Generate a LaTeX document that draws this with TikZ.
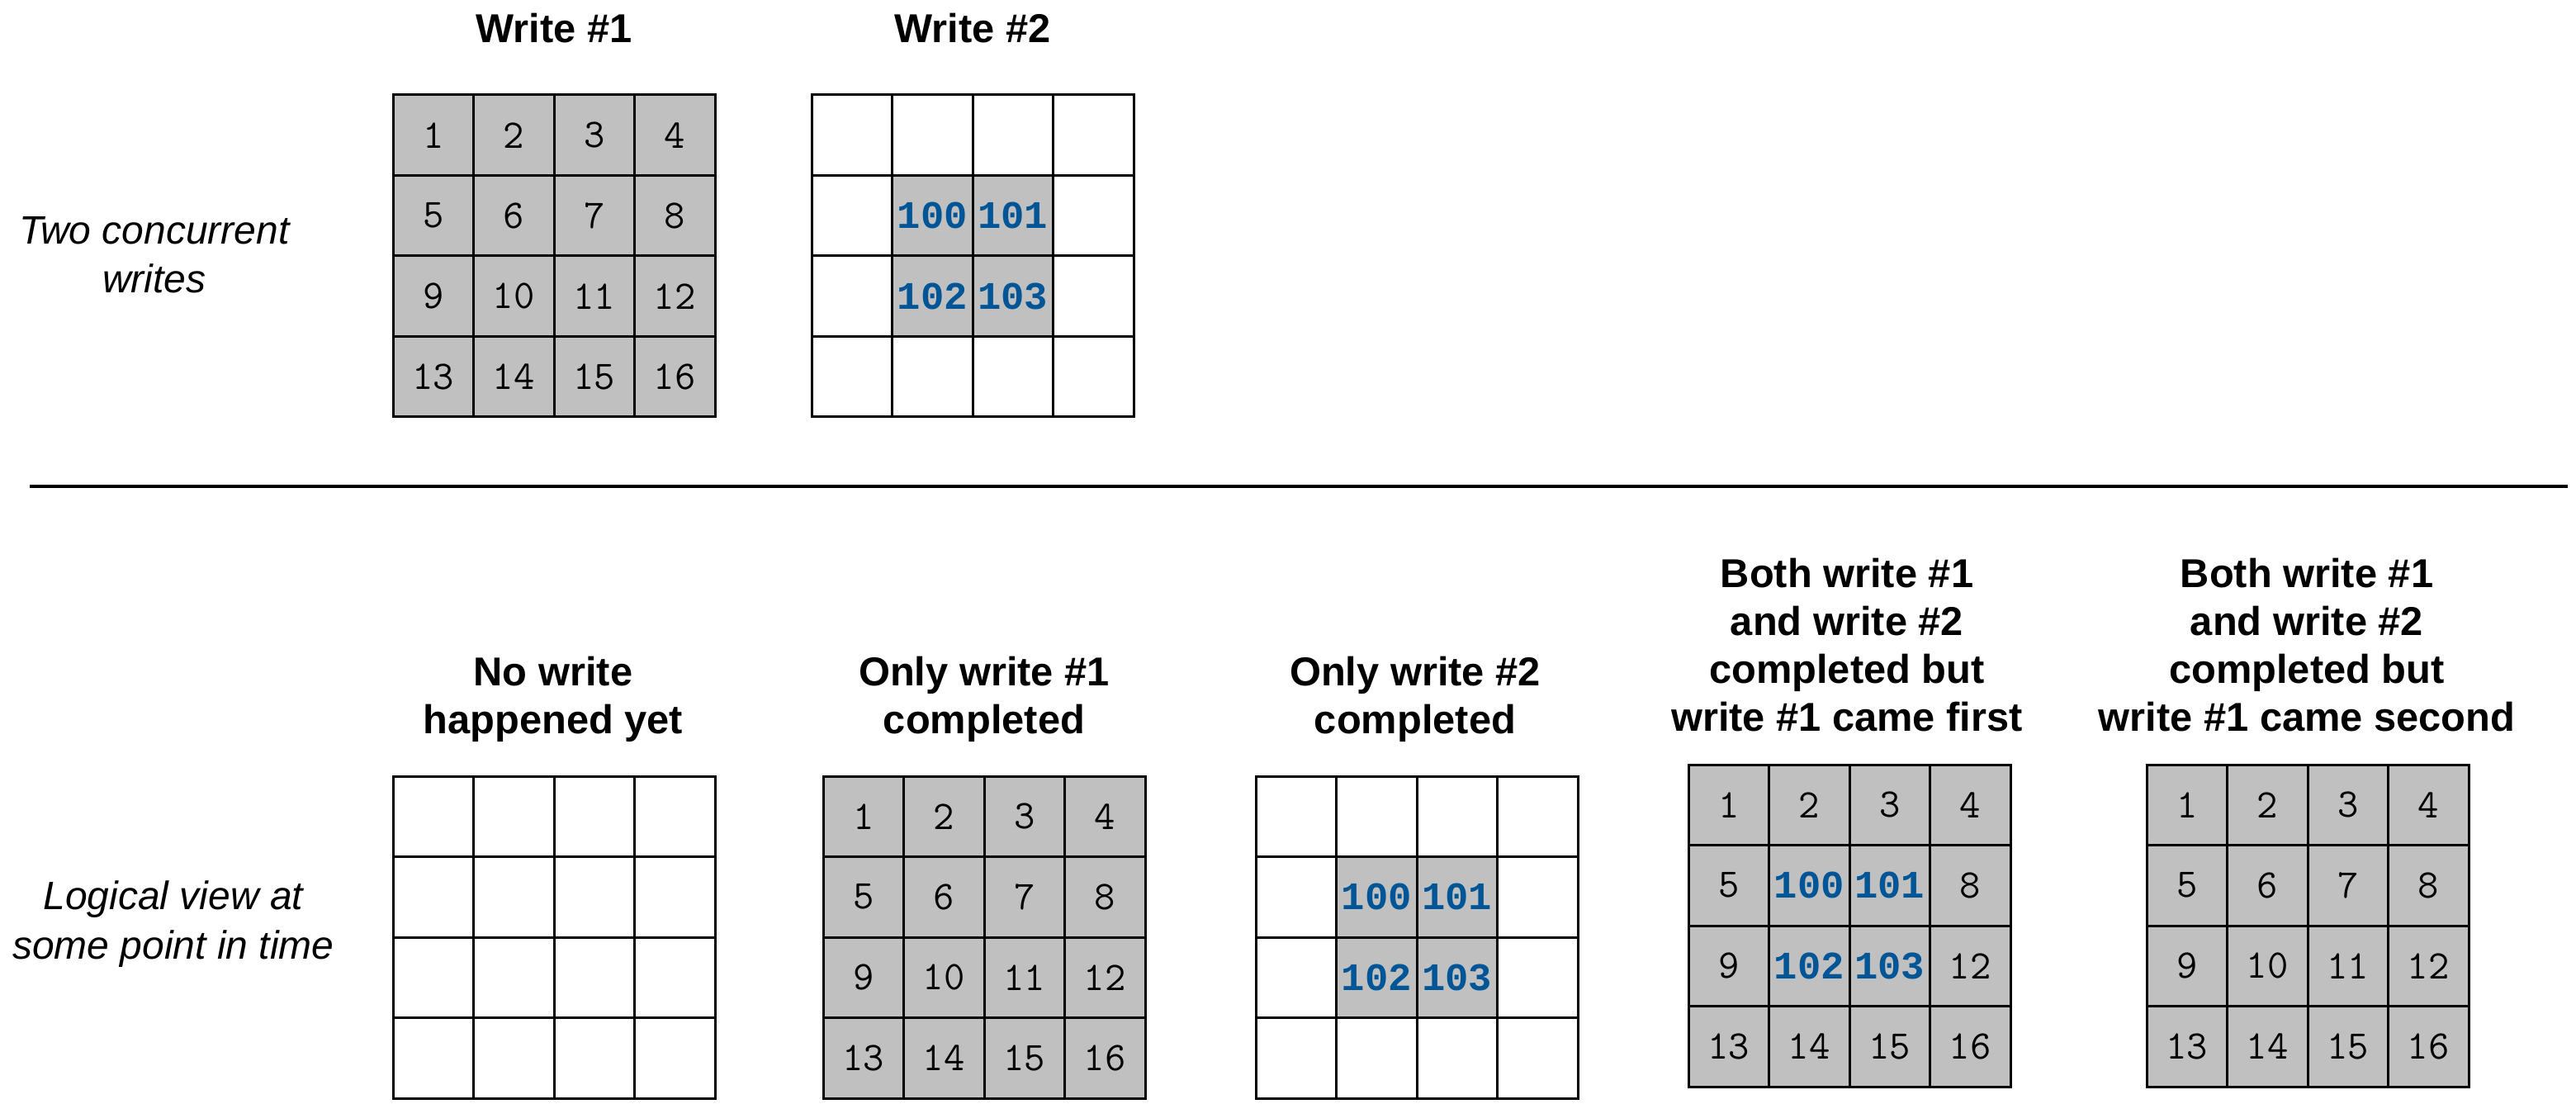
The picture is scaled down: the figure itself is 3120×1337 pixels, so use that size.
\documentclass[tikz,border=0pt]{standalone}
\usepackage{fontspec}
\setmainfont{Liberation Sans}
\newfontfamily\monofont{Liberation Mono}
\definecolor{cellgray}{HTML}{C0C0C0}
\definecolor{numblue}{HTML}{005596}
\tikzset{
  cellbase/.style={draw=black, line width=0.75pt, minimum width=24.375pt, minimum height=24.375pt,
    inner sep=0pt, outer sep=0pt, anchor=north west},
  wcell/.style={cellbase, fill=white},
  gcell/.style={cellbase, fill=cellgray, font=\ttfamily\fontsize{12.3}{13}\selectfont},
  bcell/.style={cellbase, fill=cellgray, text=numblue, font=\monofont\bfseries\fontsize{11.8}{12}\selectfont},
  title/.style={align=center, font=\bfseries\fontsize{12.2}{14.5}\selectfont, inner sep=0pt},
  sidelabel/.style={align=center, font=\itshape\fontsize{12}{14.8}\selectfont, inner sep=0pt},
  sepline/.style={line width=1pt}
}
% #1 name, #2 x, #3 y, #4 mode: 0 blank, 1 full, 2 blue centre only, 3 mixed
\newcommand\mkgrid[4]{%
  \foreach \r in {0,...,3}{\foreach \c in {0,...,3}{%
    \pgfmathtruncatemacro\cn{4*\r+\c+1}%
    \pgfmathtruncatemacro\isin{((\r==1) || (\r==2)) && ((\c==1) || (\c==2)) ? 1 : 0}%
    \pgfmathtruncatemacro\bn{100+2*(\r-1)+(\c-1)}%
    \ifcase#4
      \node[wcell] (#1-\r-\c) at (#2+\c*97.5, #3+\r*97.5) {};
    \or
      \node[gcell] (#1-\r-\c) at (#2+\c*97.5, #3+\r*97.5) {\cn};
    \or
      \ifnum\isin=1
        \node[bcell] (#1-\r-\c) at (#2+\c*97.5, #3+\r*97.5) {\bn};
      \else
        \node[wcell] (#1-\r-\c) at (#2+\c*97.5, #3+\r*97.5) {};
      \fi
    \or
      \ifnum\isin=1
        \node[bcell] (#1-\r-\c) at (#2+\c*97.5, #3+\r*97.5) {\bn};
      \else
        \node[gcell] (#1-\r-\c) at (#2+\c*97.5, #3+\r*97.5) {\cn};
      \fi
    \fi
  }}%
}
\begin{document}
\begin{tikzpicture}[x=0.25pt, y=-0.25pt]
\useasboundingbox (0,0) rectangle (3120,1337);

% top grids
\mkgrid{ta}{476}{115}{1}
\mkgrid{tb}{983}{115}{2}
% bottom grids
\mkgrid{ba}{476}{940}{0}
\mkgrid{bb}{997}{940}{1}
\mkgrid{bc}{1521}{940}{2}
\mkgrid{bd}{2045}{926}{3}
\mkgrid{be}{2600}{926}{1}

% titles
\node[title] (tta) at (671,34) {Write \#1};
\node[title] (ttb) at (1178,34) {Write \#2};
\node[title] (tba) at (670,847) {No write\\happened yet};
\node[title] (tbb) at (1192,847) {Only write \#1\\completed};
\node[title] (tbc) at (1714,847) {Only write \#2\\completed};
\node[title] (tbd) at (2237,781) {Both write \#1\\and write \#2\\completed but\\write \#1 came first};
\node[title] (tbe) at (2794,781) {Both write \#1\\and write \#2\\completed but\\write \#1 came second};

% side labels
\node[sidelabel] (lt) at (187,309) {Two concurrent\\writes};
\node[sidelabel] (lb) at (210,1119) {Logical view at\\some point in time};

% separator
\coordinate (sepL) at (36,589);
\coordinate (sepR) at (3110,589);
\draw[sepline] (sepL) -- (sepR);
\end{tikzpicture}
\end{document}
